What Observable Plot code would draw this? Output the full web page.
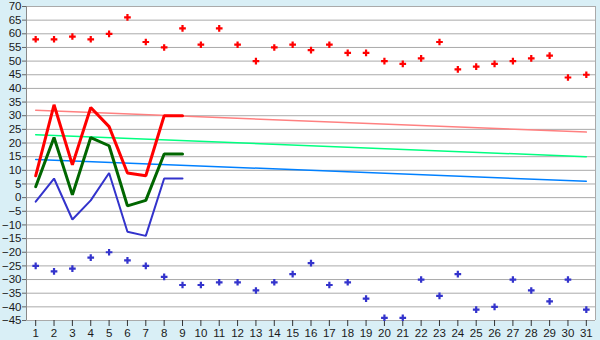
<!DOCTYPE html>
<html>
<head>
<meta charset="utf-8">
<script src="https://cdn.jsdelivr.net/npm/d3@7"></script>
<script src="https://cdn.jsdelivr.net/npm/@observablehq/plot@0.6"></script>
<style>
  html, body { margin: 0; padding: 0; background: #d9eff6; }
  #chart { width: 600px; height: 340px; }
</style>
</head>
<body>
<div id="chart"></div>
<script>
const days = [1,2,3,4,5,6,7,8,9,10,11,12,13,14,15,16,17,18,19,20,21,22,23,24,25,26,27,28,29,30,31];
const yTicks = [-45,-40,-35,-30,-25,-20,-15,-10,-5,0,5,10,15,20,25,30,35,40,45,50,55,60,65,70];

const recordHigh = [58,58,59,58,60,66,57,55,62,56,62,56,50,55,56,54,56,53,53,50,49,51,57,47,48,49,50,51,52,44,45];
const recordLow = [-25,-27,-26,-22,-20,-23,-25,-29,-32,-32,-31,-31,-34,-31,-28,-24,-32,-31,-37,-44,-44,-30,-36,-28,-41,-40,-30,-34,-38,-30,-41];

const obsDays = [1,2,3,4,5,6,7,8,9];
const obsMax = [8,34,12,33,26,9,8,30,30];
const obsMean = [4,22,1,22,19,-3,-1,16,16];
const obsMin = [-1.5,7,-8,-1,9,-12.5,-14,7,7];

const normDays = [1,31];
const normMax = [32,24];
const normMean = [23,15];
const normMin = [14,6];

const rec = days.map((d,i) => ({d, hi: recordHigh[i], lo: recordLow[i]}));
const obs = obsDays.map((d,i) => ({d, max: obsMax[i], mean: obsMean[i], min: obsMin[i]}));
const norm = normDays.map((d,i) => ({d, max: normMax[i], mean: normMean[i], min: normMin[i]}));

const chart = Plot.plot({
  width: 600,
  height: 340,
  marginLeft: 26,
  marginRight: 5,
  marginTop: 6,
  marginBottom: 20,
  style: {background: "#d9eff6", fontFamily: "'Liberation Sans', Arial, sans-serif", fontSize: "11.5px", color: "#1a1a1a"},
  x: {domain: [0.5, 31.5], axis: null},
  y: {domain: [-45, 70], axis: null},
  marks: [
    Plot.frame({fill: "white", stroke: "none"}),
    Plot.ruleY(yTicks, {stroke: "#aaaaaa", strokeWidth: 1}),
    Plot.ruleX([31.5], {stroke: "#aaaaaa"}),
    Plot.ruleX([0.5], {stroke: "#888888"}),
    Plot.axisY({ticks: yTicks, tickSize: 4, tickPadding: 1, label: null, stroke: "#666", fill: "#1a1a1a"}),
    Plot.axisX({ticks: days, tickSize: 6, tickPadding: 2, label: null, stroke: "#333", fill: "#1a1a1a"}),
    Plot.line(norm, {x: "d", y: "max", stroke: "#ff8080", strokeWidth: 1.5}),
    Plot.line(norm, {x: "d", y: "mean", stroke: "#00ff80", strokeWidth: 1.5}),
    Plot.line(norm, {x: "d", y: "min", stroke: "#0080ff", strokeWidth: 1.5}),
    Plot.line(obs, {x: "d", y: "max", stroke: "#ff0000", strokeWidth: 3, strokeLinejoin: "miter"}),
    Plot.line(obs, {x: "d", y: "mean", stroke: "#006600", strokeWidth: 3, strokeLinejoin: "miter"}),
    Plot.line(obs, {x: "d", y: "min", stroke: "#3333cc", strokeWidth: 2, strokeLinejoin: "miter"}),
    Plot.dot(rec, {x: "d", y: "hi", symbol: "cross", r: 2.8, fill: "#ff0000", stroke: "none"}),
    Plot.dot(rec, {x: "d", y: "lo", symbol: "cross", r: 2.8, fill: "#3333cc", stroke: "none"})
  ]
});
document.getElementById("chart").appendChild(chart);
</script>
</body>
</html>
